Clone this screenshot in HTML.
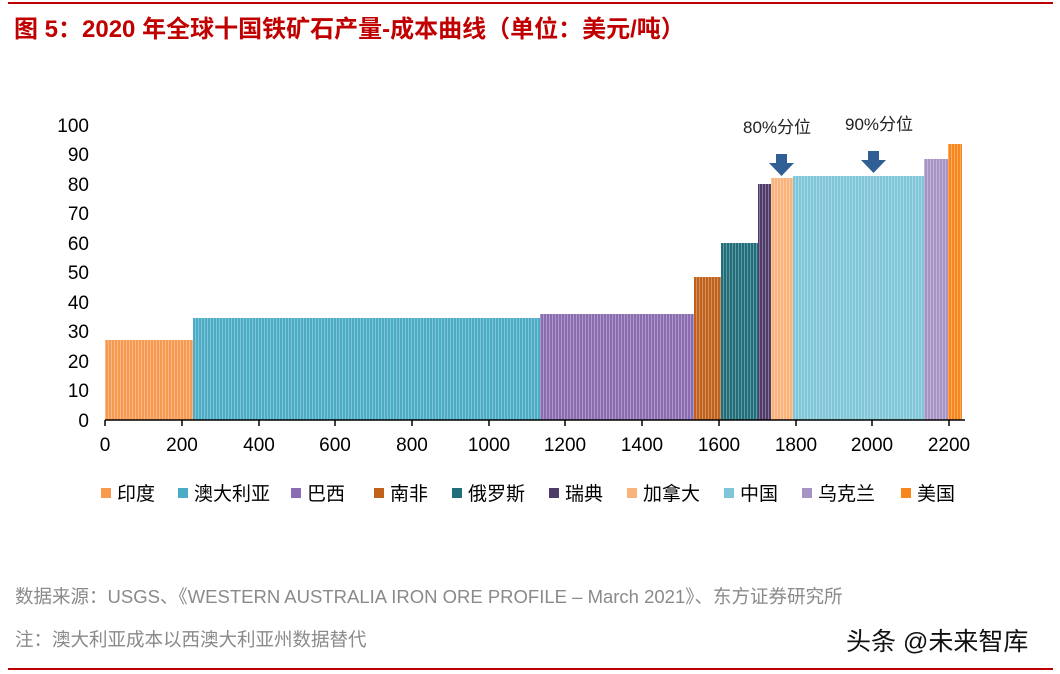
<!DOCTYPE html>
<html><head><meta charset="utf-8"><style>
body{margin:0;width:1060px;height:674px;background:#fff;position:relative;overflow:hidden;font-family:"Liberation Sans","Noto Sans CJK SC",sans-serif}
.a{position:absolute}
</style></head><body>
<div class="a" style="left:8px;top:2px;width:1045px;height:2px;background:#c00000"></div>
<div class="a" style="left:14px;top:9px;font-size:24px;font-weight:bold;color:#c00000;white-space:nowrap">图 5：2020 年全球十国铁矿石产量-成本曲线（单位：美元/吨）</div>
<svg class="a" style="left:0;top:0" width="1060" height="674">
<defs>
<pattern id="s" width="3" height="10" patternUnits="userSpaceOnUse"><rect x="0" width="1" height="10" fill="#fff" opacity="0.3"/></pattern>
</defs>
<g font-size="19" fill="#000" text-anchor="end" font-family="Liberation Sans, sans-serif">
<text x="89" y="427">0</text><text x="89" y="397">10</text><text x="89" y="368">20</text><text x="89" y="338">30</text><text x="89" y="309">40</text><text x="89" y="279">50</text><text x="89" y="250">60</text><text x="89" y="220">70</text><text x="89" y="191">80</text><text x="89" y="161">90</text><text x="89" y="132">100</text>
</g>
<g>
<rect x="105" y="340" width="88" height="80" fill="#f79a50"/>
<rect x="193" y="318" width="347" height="102" fill="#4bacc6"/>
<rect x="540" y="314" width="154" height="106" fill="#8a6cb0"/>
<rect x="694" y="277" width="27" height="143" fill="#c0621c"/>
<rect x="721" y="243" width="37" height="177" fill="#1f6e7a"/>
<rect x="758" y="184" width="13" height="236" fill="#4e3b68"/>
<rect x="771" y="178" width="22" height="242" fill="#fab37a"/>
<rect x="793" y="176" width="131" height="244" fill="#7fc7d8"/>
<rect x="924" y="159" width="24" height="261" fill="#a894c4"/>
<rect x="948" y="144" width="14" height="276" fill="#f7861c"/>
<rect x="105" y="140" width="857" height="280" fill="url(#s)"/>
<rect x="100" y="130" width="865" height="12" fill="#fff"/>
</g>
<line x1="105" y1="420" x2="965" y2="420" stroke="#000" stroke-width="1.5"/>
<g stroke="#000" stroke-width="1.5">
<line x1="105" y1="420" x2="105" y2="426"/><line x1="182" y1="420" x2="182" y2="426"/><line x1="259" y1="420" x2="259" y2="426"/><line x1="335" y1="420" x2="335" y2="426"/><line x1="412" y1="420" x2="412" y2="426"/><line x1="489" y1="420" x2="489" y2="426"/><line x1="565" y1="420" x2="565" y2="426"/><line x1="642" y1="420" x2="642" y2="426"/><line x1="719" y1="420" x2="719" y2="426"/><line x1="796" y1="420" x2="796" y2="426"/><line x1="872" y1="420" x2="872" y2="426"/><line x1="949" y1="420" x2="949" y2="426"/>
</g>
<g font-size="19" text-anchor="middle" font-family="Liberation Sans, sans-serif">
<text x="105" y="451">0</text><text x="182" y="451">200</text><text x="259" y="451">400</text><text x="335" y="451">600</text><text x="412" y="451">800</text><text x="489" y="451">1000</text><text x="565" y="451">1200</text><text x="642" y="451">1400</text><text x="719" y="451">1600</text><text x="796" y="451">1800</text><text x="872" y="451">2000</text><text x="949" y="451">2200</text>
</g>
<path d="M776,154h11v9h7l-12.5,13l-12.5,-13h7z" fill="#2f5f95"/>
<path d="M868,151h11v9h7l-12.5,13l-12.5,-13h7z" fill="#2f5f95"/>
<g font-size="17" fill="#222" text-anchor="middle" font-family="Liberation Sans, Noto Sans CJK SC, sans-serif">
<text x="777" y="133">80%分位</text><text x="879" y="130">90%分位</text>
</g>
<g font-size="19" font-family="Liberation Sans, Noto Sans CJK SC, sans-serif">
<rect x="101" y="488" width="10" height="10" fill="#f79a50"/><text x="117" y="500">印度</text>
<rect x="178" y="488" width="10" height="10" fill="#4bacc6"/><text x="194" y="500">澳大利亚</text>
<rect x="291" y="488" width="10" height="10" fill="#8a6cb0"/><text x="307" y="500">巴西</text>
<rect x="374" y="488" width="10" height="10" fill="#c0621c"/><text x="390" y="500">南非</text>
<rect x="452" y="488" width="10" height="10" fill="#1f6e7a"/><text x="468" y="500">俄罗斯</text>
<rect x="549" y="488" width="10" height="10" fill="#4e3b68"/><text x="565" y="500">瑞典</text>
<rect x="627" y="488" width="10" height="10" fill="#fab37a"/><text x="643" y="500">加拿大</text>
<rect x="724" y="488" width="10" height="10" fill="#7fc7d8"/><text x="740" y="500">中国</text>
<rect x="802" y="488" width="10" height="10" fill="#a894c4"/><text x="818" y="500">乌克兰</text>
<rect x="901" y="488" width="10" height="10" fill="#f7861c"/><text x="917" y="500">美国</text>
</g>
</svg>
<div class="a" style="left:15px;top:583px;font-size:18.5px;color:#8a8a8a;white-space:nowrap">数据来源：USGS、《WESTERN AUSTRALIA IRON ORE PROFILE – March 2021》、东方证券研究所</div>
<div class="a" style="left:15px;top:626px;font-size:18.5px;color:#8a8a8a;white-space:nowrap">注：澳大利亚成本以西澳大利亚州数据替代</div>
<div class="a" style="left:846px;top:622px;font-size:25px;color:#111;white-space:nowrap">头条 @未来智库</div>
<div class="a" style="left:8px;top:668px;width:1045px;height:2px;background:#c00000"></div>
</body></html>
